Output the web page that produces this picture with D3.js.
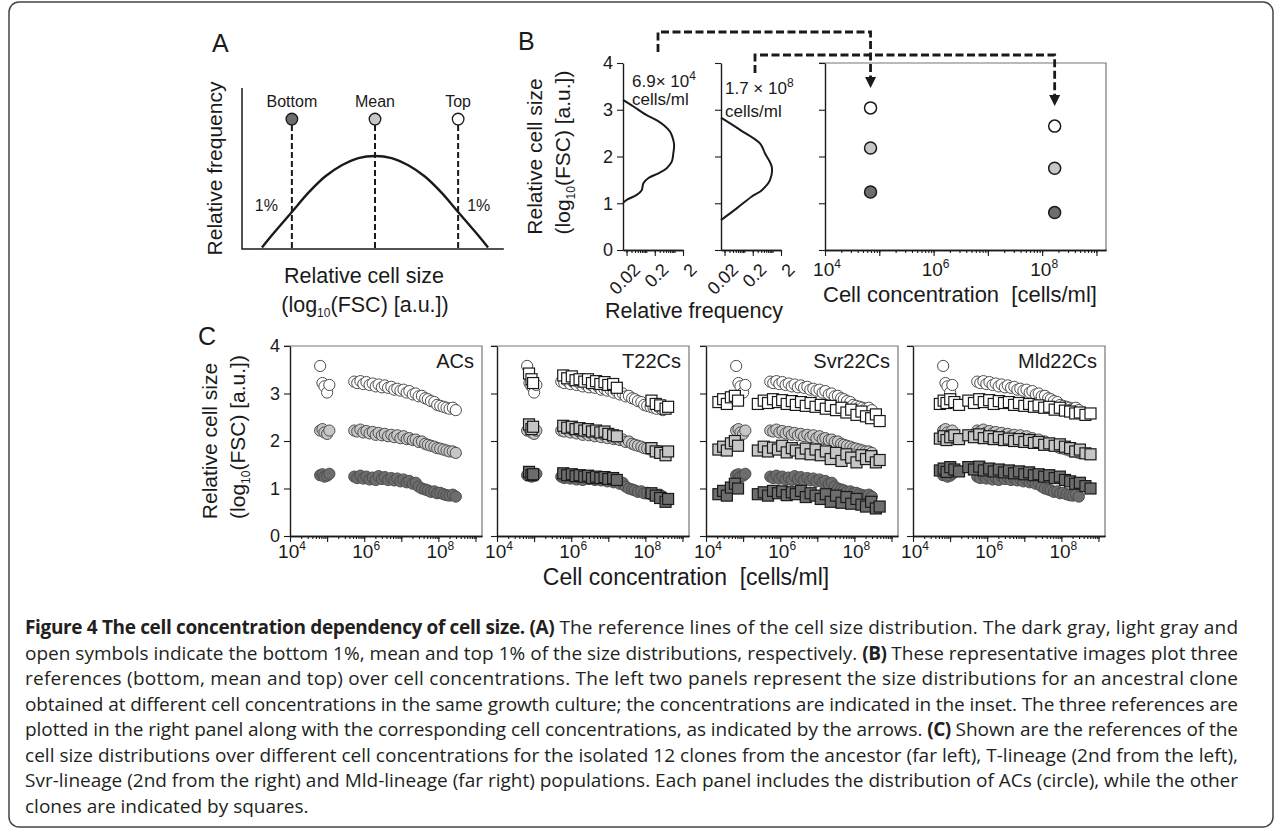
<!DOCTYPE html>
<html>
<head>
<meta charset="utf-8">
<script src="https://cdnjs.cloudflare.com/ajax/libs/d3/7.8.5/d3.min.js"></script>
<style>
  body { margin: 0; background: #fff; }
  svg text { font-family: "Liberation Sans", Arial, Helvetica, sans-serif; fill: #1a1a1a; }
  svg text.cap { font-family: "Open Sans", "Noto Sans", sans-serif; fill: #231f20; }
</style>
</head>
<body>
<svg id="fig" width="1282" height="830"></svg>
<script>
// ---- data ----
// panel A: schematic size distribution (relative size, relative frequency)
var bellSize = [-1.36, -1.2, -1.0, -0.8, -0.6, -0.4, -0.2, 0, 0.2, 0.4, 0.6, 0.8, 1.0, 1.2, 1.36];
var bellFreq = [0.01, 0.11, 0.23, 0.35, 0.45, 0.52, 0.565, 0.578, 0.565, 0.52, 0.45, 0.35, 0.23, 0.11, 0.01];
var refNames = ["Bottom", "Mean", "Top"];
var refPos = [-1, 0, 1];

// panel B: two measured size distributions (log10 FSC, relative frequency)
var hist1Size = [3.21, 3.07, 2.89, 2.78, 2.68, 2.53, 2.40, 2.25, 2.07, 1.89, 1.75, 1.64, 1.54, 1.43, 1.28, 1.18, 1.07, 1.01];
var hist1Freq = [0.015, 0.035, 0.10, 0.23, 0.40, 0.70, 0.86, 0.97, 0.91, 0.80, 0.53, 0.27, 0.12, 0.079, 0.069, 0.046, 0.020, 0.015];
var hist2Size = [2.83, 2.57, 2.28, 2.07, 1.78, 1.50, 1.28, 1.14, 0.89, 0.64];
var hist2Freq = [0.015, 0.071, 0.36, 0.54, 0.94, 0.82, 0.42, 0.18, 0.054, 0.015];
var histConc = [6.9e4, 1.7e8];
var histConcText = [["6.9\u00d7 10", "4"], ["1.7 \u00d7 10", "8"]];
// references of the two distributions: bottom, mean, top
var bRefBottom = [1.24, 0.80];
var bRefMean = [2.18, 1.75];
var bRefTop = [3.04, 2.65];

// panel C: [cells/ml, bottom 1%, mean, top 1%]
var acRefs = [
  [6.5e4, 1.28, 2.22, 3.58], [7.5e4, 1.30, 2.25, 3.22], [8.5e4, 1.25, 2.18, 3.15], [1.0e5, 1.27, 2.15, 3.02], [1.15e5, 1.31, 2.22, 3.18],
  [5.4e5, 1.25, 2.22, 3.25], [6.5e5, 1.22, 2.20, 3.22], [7.9e5, 1.27, 2.24, 3.26], [9.5e5, 1.21, 2.18, 3.20], [1.15e6, 1.25, 2.21, 3.24],
  [1.4e6, 1.19, 2.16, 3.18], [1.7e6, 1.23, 2.19, 3.21], [2.05e6, 1.18, 2.13, 3.15], [2.45e6, 1.26, 2.17, 3.19], [3.0e6, 1.20, 2.12, 3.13],
  [3.6e6, 1.24, 2.15, 3.17], [4.4e6, 1.18, 2.10, 3.12], [5.4e6, 1.22, 2.13, 3.14], [6.5e6, 1.17, 2.08, 3.08], [7.8e6, 1.21, 2.12, 3.10],
  [9.5e6, 1.15, 2.06, 3.06], [1.15e7, 1.19, 2.10, 3.08], [1.4e7, 1.13, 2.04, 3.02], [1.65e7, 1.16, 2.06, 3.05], [2.05e7, 1.10, 2.02, 2.98],
  [2.45e7, 1.12, 2.03, 3.00], [2.95e7, 1.04, 1.98, 2.94], [3.6e7, 1.00, 1.99, 2.95], [4.4e7, 0.98, 1.94, 2.90], [5.2e7, 0.96, 1.92, 2.88],
  [6.3e7, 0.93, 1.90, 2.84], [7.8e7, 0.94, 1.88, 2.82], [9.3e7, 0.90, 1.85, 2.76], [1.12e8, 0.91, 1.84, 2.74], [1.38e8, 0.88, 1.82, 2.72],
  [1.66e8, 0.86, 1.80, 2.70], [2.0e8, 0.85, 1.78, 2.68], [2.45e8, 0.87, 1.78, 2.70], [2.95e8, 0.83, 1.75, 2.65]
];
var t22Refs = [
  [7.3e4, 1.35, 2.35, 3.42], [8.5e4, 1.28, 2.25, 3.30], [9.4e4, 1.30, 2.30, 3.22],
  [6.1e5, 1.32, 2.32, 3.38], [7.8e5, 1.28, 2.28, 3.32], [1.04e6, 1.30, 2.30, 3.36], [1.31e6, 1.26, 2.25, 3.28], [1.68e6, 1.28, 2.27, 3.30],
  [2.25e6, 1.25, 2.22, 3.25], [2.84e6, 1.27, 2.25, 3.30], [3.64e6, 1.22, 2.20, 3.22], [4.67e6, 1.25, 2.22, 3.26], [6.1e6, 1.22, 2.18, 3.20],
  [7.9e6, 1.24, 2.20, 3.24], [1.0e7, 1.20, 2.15, 3.18], [1.35e7, 1.22, 2.12, 3.20], [1.7e7, 1.18, 2.10, 3.12],
  [1.46e8, 0.90, 1.85, 2.85], [1.9e8, 0.85, 1.78, 2.78], [2.5e8, 0.80, 1.75, 2.75], [3.5e8, 0.72, 1.70, 2.68], [4.1e8, 0.78, 1.78, 2.72]
];
var svrRefs = [
  [2.16e4, 0.88, 1.82, 2.82], [2.9e4, 0.95, 1.88, 2.88], [3.65e4, 0.85, 1.80, 2.78], [4.7e4, 1.02, 1.95, 2.92], [6.0e4, 1.10, 2.00, 2.95], [7.3e4, 1.00, 1.90, 2.85],
  [2.5e5, 0.88, 1.80, 2.78], [3.6e5, 0.92, 1.88, 2.85], [4.7e5, 0.85, 1.78, 2.80], [6.4e5, 0.95, 1.86, 2.88], [8.7e5, 0.90, 1.82, 2.82],
  [1.13e6, 0.94, 1.90, 2.86], [1.5e6, 0.86, 1.76, 2.78], [2.06e6, 0.92, 1.85, 2.84], [2.64e6, 0.88, 1.80, 2.76], [3.64e6, 0.95, 1.74, 2.82],
  [4.9e6, 0.82, 1.84, 2.74], [6.6e6, 0.90, 1.72, 2.80], [9.0e6, 0.85, 1.82, 2.72], [1.24e7, 0.78, 1.70, 2.76], [1.7e7, 0.88, 1.78, 2.68],
  [2.3e7, 0.72, 1.62, 2.74], [3.2e7, 0.85, 1.75, 2.65], [4.5e7, 0.70, 1.58, 2.70], [6.1e7, 0.82, 1.72, 2.60], [8.2e7, 0.68, 1.65, 2.66],
  [1.14e8, 0.78, 1.55, 2.55], [1.55e8, 0.66, 1.70, 2.62], [2.06e8, 0.62, 1.62, 2.52], [2.83e8, 0.72, 1.68, 2.48], [3.8e8, 0.58, 1.55, 2.56],
  [4.8e8, 0.62, 1.60, 2.42]
];
var mldRefs = [
  [5.3e4, 1.38, 2.05, 2.78], [6.7e4, 1.42, 2.10, 2.85], [8.0e4, 1.35, 2.02, 2.80], [1.01e5, 1.45, 2.08, 2.88], [1.3e5, 1.40, 2.12, 2.82], [1.74e5, 1.36, 2.04, 2.76],
  [3.1e5, 1.45, 2.12, 2.85], [4.4e5, 1.40, 2.08, 2.80], [6.1e5, 1.46, 2.14, 2.88], [8.1e5, 1.38, 2.06, 2.82], [1.13e6, 1.42, 2.10, 2.86],
  [1.5e6, 1.36, 2.04, 2.78], [2.06e6, 1.40, 2.08, 2.84], [2.84e6, 1.34, 2.02, 2.80], [3.85e6, 1.38, 2.05, 2.82], [5.3e6, 1.32, 2.00, 2.76],
  [7.2e6, 1.36, 2.04, 2.80], [1.0e7, 1.30, 1.98, 2.74], [1.35e7, 1.34, 2.02, 2.78], [1.82e7, 1.28, 1.96, 2.72], [2.43e7, 1.30, 1.98, 2.75],
  [3.43e7, 1.25, 1.92, 2.70], [4.7e7, 1.28, 1.95, 2.72], [6.6e7, 1.22, 1.90, 2.66], [9.1e7, 1.25, 1.93, 2.70], [1.25e8, 1.18, 1.88, 2.64],
  [1.72e8, 1.15, 1.85, 2.62], [2.36e8, 1.10, 1.78, 2.58], [3.15e8, 1.12, 1.82, 2.60], [4.45e8, 1.05, 1.74, 2.55], [6.1e8, 1.00, 1.72, 2.58]
];
var panelNames = ["ACs", "T22Cs", "Svr22Cs", "Mld22Cs"];
var panelClones = [null, t22Refs, svrRefs, mldRefs];
var sizeTicks = [0, 1, 2, 3, 4];
var concDomain = [1e4, 1.5e9];
var concMajors = [1e4, 1e5, 1e6, 1e7, 1e8, 1e9];
var concLabels = [1e4, 1e6, 1e8];
var freqLabels = [0.02, 0.2, 2];

var captionLines = [
  [["Figure 4 The cell concentration dependency of cell size. (A)", 1], [" The reference lines of the cell size distribution. The dark gray, light gray and", 0]],
  [["open symbols indicate the bottom 1%, mean and top 1% of the size distributions, respectively. ", 0], ["(B)", 1], [" These representative images plot three", 0]],
  [["references (bottom, mean and top) over cell concentrations. The left two panels represent the size distributions for an ancestral clone", 0]],
  [["obtained at different cell concentrations in the same growth culture; the concentrations are indicated in the inset. The three references are", 0]],
  [["plotted in the right panel along with the corresponding cell concentrations, as indicated by the arrows. ", 0], ["(C)", 1], [" Shown are the references of the", 0]],
  [["cell size distributions over different cell concentrations for the isolated 12 clones from the ancestor (far left), T-lineage (2nd from the left),", 0]],
  [["Svr-lineage (2nd from the right) and Mld-lineage (far right) populations. Each panel includes the distribution of ACs (circle), while the other", 0]],
  [["clones are indicated by squares.", 0]]
];

// ---- styles ----
var levelFill = ["#6d6d6d", "#c6c6c6", "#ffffff"];   // bottom, mean, top
var ink = "#1a1a1a";

var svg = d3.select("#fig");

svg.append("rect")
  .attr("x", 9).attr("y", 2).attr("width", 1264).attr("height", 825)
  .attr("rx", 10).attr("fill", "none").attr("stroke", "#444").attr("stroke-width", 1.5);

function logTicks(lo, hi) {
  var out = [];
  for (var e = Math.floor(Math.log10(lo)); e <= Math.ceil(Math.log10(hi)); e++) {
    for (var k = 1; k < 10; k++) {
      var v = k * Math.pow(10, e);
      if (v >= lo * 0.999 && v <= hi * 1.001) out.push(v);
    }
  }
  return out;
}

function styleAxis(g) {
  g.select(".domain").attr("stroke", ink).attr("stroke-width", 1.4);
  g.selectAll(".tick line").attr("stroke", ink).attr("stroke-width", 1.1);
  g.selectAll(".tick text").remove();
}

function sizeAxis(x0, y, withLabels) {
  var g = svg.append("g").attr("transform", `translate(${x0},0)`)
    .call(d3.axisLeft(y).tickValues(sizeTicks).tickSize(6).tickSizeOuter(0));
  styleAxis(g);
  if (withLabels) {
    sizeTicks.forEach(function(v) {
      svg.append("text").attr("x", x0 - 10).attr("y", y(v)).attr("dy", "0.36em")
        .attr("text-anchor", "end").attr("font-size", 18).text(v);
    });
  }
}

function concAxis(x, y0, labelY) {
  var d = x.domain();
  var g1 = svg.append("g").attr("transform", `translate(0,${y0})`)
    .call(d3.axisBottom(x).tickValues(logTicks(d[0], d[1])).tickSize(3).tickSizeOuter(0));
  styleAxis(g1);
  var g2 = svg.append("g").attr("transform", `translate(0,${y0})`)
    .call(d3.axisBottom(x).tickValues(concMajors.filter(v => v <= d[1])).tickSize(6).tickSizeOuter(0));
  styleAxis(g2);
  concLabels.forEach(function(v) {
    var t = svg.append("text").attr("x", x(v) + 2).attr("y", labelY)
      .attr("text-anchor", "middle").attr("font-size", 19);
    t.append("tspan").text("10");
    t.append("tspan").attr("dy", -8).attr("font-size", 12).text(Math.round(Math.log10(v)));
  });
}

function boxEdges(x0, x1, y0, y1) {
  svg.append("path")
    .attr("d", `M${x0 - 6},${y0}H${x1}V${y1}`)
    .attr("fill", "none").attr("stroke", "#777").attr("stroke-width", 1.2);
}

function sizeTitle(xBase, cy) {
  svg.append("text").attr("transform", `translate(${xBase},${cy}) rotate(-90)`)
    .attr("text-anchor", "middle").attr("font-size", 21).text("Relative cell size");
  var t2 = svg.append("text").attr("transform", `translate(${xBase + 28},${cy - 4}) rotate(-90)`)
    .attr("text-anchor", "middle").attr("font-size", 21);
  t2.append("tspan").text("(log");
  t2.append("tspan").attr("font-size", 12).attr("dy", 5).text("10");
  t2.append("tspan").attr("dy", -5).text("(FSC) [a.u.])");
}

function letter(s, x, y) {
  svg.append("text").attr("x", x).attr("y", y).attr("font-size", 25).text(s);
}

// ================= Panel A =================
letter("A", 212, 52);
var aX = d3.scaleLinear().domain([-1.6, 1.6]).range([242, 508]);
var aY = d3.scaleLinear().domain([0, 1]).range([249, 88]);

svg.append("path")
  .attr("d", `M242,${aY(1)}V${aY(0)}H${aX(1.55)}`)
  .attr("fill", "none").attr("stroke", ink).attr("stroke-width", 1.5);

var bell = bellSize.map((s, i) => [s, bellFreq[i]]);
svg.append("path").datum(bell)
  .attr("d", d3.line().x(d => aX(d[0])).y(d => aY(d[1])).curve(d3.curveCatmullRom))
  .attr("fill", "none").attr("stroke", ink).attr("stroke-width", 2.4);

refPos.forEach(function(p, i) {
  svg.append("line")
    .attr("x1", aX(p)).attr("x2", aX(p)).attr("y1", aY(0.807) + 6).attr("y2", aY(0))
    .attr("stroke", ink).attr("stroke-width", 2).attr("stroke-dasharray", "6,3");
  svg.append("circle").attr("cx", aX(p)).attr("cy", aY(0.807)).attr("r", 5.8)
    .attr("fill", levelFill[i]).attr("stroke", ink).attr("stroke-width", 1.3);
  svg.append("text").attr("x", aX(p)).attr("y", aY(0.88)).attr("text-anchor", "middle")
    .attr("font-size", 16).text(refNames[i]);
});
svg.append("text").attr("x", aX(-1) - 14).attr("y", 211).attr("text-anchor", "end").attr("font-size", 16).text("1%");
svg.append("text").attr("x", aX(1) + 9).attr("y", 211).attr("text-anchor", "start").attr("font-size", 16).text("1%");

svg.append("text").attr("transform", `translate(222,${(aY(0) + aY(1)) / 2}) rotate(-90)`)
  .attr("text-anchor", "middle").attr("font-size", 21).text("Relative frequency");
svg.append("text").attr("x", 364).attr("y", 283).attr("text-anchor", "middle")
  .attr("font-size", 21.5).text("Relative cell size");
var ax2 = svg.append("text").attr("x", 365).attr("y", 312).attr("text-anchor", "middle").attr("font-size", 21.5);
ax2.append("tspan").text("(log");
ax2.append("tspan").attr("font-size", 12).attr("dy", 5).text("10");
ax2.append("tspan").attr("dy", -5).text("(FSC) [a.u.])");

// ================= Panel B =================
letter("B", 518, 50);
var bY = d3.scaleLinear().domain([0, 4]).range([250, 63]);
var hLefts = [623, 721];
var hists = [
  hist1Size.map((s, i) => [s, hist1Freq[i]]),
  hist2Size.map((s, i) => [s, hist2Freq[i]])
];
hLefts.forEach(function(x0, h) {
  var hx = d3.scaleLog().domain([0.015, 2]).range([x0, x0 + 60]).clamp(true);
  sizeAxis(x0, bY, h === 0);
  var g1 = svg.append("g").attr("transform", `translate(0,${bY(0)})`)
    .call(d3.axisBottom(hx).tickValues(logTicks(0.015, 2)).tickSize(3).tickSizeOuter(0));
  styleAxis(g1);
  var g2 = svg.append("g").attr("transform", `translate(0,${bY(0)})`)
    .call(d3.axisBottom(hx).tickValues(freqLabels).tickSize(6).tickSizeOuter(0));
  styleAxis(g2);
  freqLabels.forEach(function(v) {
    svg.append("text")
      .attr("transform", `translate(${hx(v) + 6},${bY(0) + 12}) rotate(-45)`)
      .attr("text-anchor", "end").attr("dy", "0.7em").attr("font-size", 18).text(v);
  });
  svg.append("path").datum(hists[h])
    .attr("d", d3.line().x(d => hx(d[1])).y(d => bY(d[0])).curve(d3.curveCatmullRom))
    .attr("fill", "none").attr("stroke", ink).attr("stroke-width", 2);
});
// inset concentration labels
var insetPos = [[632, 87, 105], [725, 94, 117]];
histConcText.forEach(function(t, i) {
  var tx = svg.append("text").attr("x", insetPos[i][0]).attr("y", insetPos[i][1]).attr("font-size", 17);
  tx.append("tspan").text(t[0]);
  tx.append("tspan").attr("dy", -7).attr("font-size", 12).text(t[1]);
  svg.append("text").attr("x", insetPos[i][0]).attr("y", insetPos[i][2]).attr("font-size", 17).text("cells/ml");
});
svg.append("text").attr("x", 694).attr("y", 318).attr("text-anchor", "middle")
  .attr("font-size", 21.5).text("Relative frequency");
sizeTitle(542, (bY(0) + bY(4)) / 2);

// right panel of B
var bX = d3.scaleLog().domain(concDomain).range([825, 1106]);
boxEdges(825, 1106, bY(4), bY(0));
sizeAxis(825, bY, false);
concAxis(bX, bY(0), 276);
svg.append("text").attr("x", 823).attr("y", 302).attr("font-size", 22)
  .attr("xml:space", "preserve").text("Cell concentration  [cells/ml]");
var bLevels = [bRefBottom, bRefMean, bRefTop];
bLevels.forEach(function(arr, li) {
  histConc.forEach(function(c, i) {
    svg.append("circle").attr("cx", bX(c)).attr("cy", bY(arr[i])).attr("r", 6)
      .attr("fill", levelFill[li]).attr("stroke", ink).attr("stroke-width", 1.5);
  });
});
// dashed arrows from the insets to the references
var arrowY = [32, 55];
var arrowFrom = [[658, 52], [755, 73]];
histConc.forEach(function(c, i) {
  var tipY = bY(bRefTop[i]) - 20;
  var xe = bX(c);
  svg.append("path")
    .attr("d", `M${arrowFrom[i][0]},${arrowFrom[i][1]}V${arrowY[i]}H${xe}V${tipY - 9}`)
    .attr("fill", "none").attr("stroke", ink).attr("stroke-width", 2.8).attr("stroke-dasharray", "8,3.5");
  svg.append("path")
    .attr("d", `M${xe - 5.5},${tipY - 11}L${xe + 5.5},${tipY - 11}L${xe},${tipY}Z`)
    .attr("fill", ink);
});

// ================= Panel C =================
letter("C", 198, 345);
var cY = d3.scaleLinear().domain([0, 4]).range([536, 346]);
var cLefts = [290, 497, 706, 913];
var cW = 192;
sizeTitle(217, (cY(0) + cY(4)) / 2);

function drawRefs(g, rows, x, shape) {
  [3, 2, 1].forEach(function(col) {
    var fill = levelFill[col - 1];
    if (shape === "circle") {
      g.selectAll(null).data(rows).enter().append("circle")
        .attr("cx", d => x(d[0])).attr("cy", d => cY(d[col])).attr("r", 5.6)
        .attr("fill", fill).attr("stroke", "#4d4d4d").attr("stroke-width", 1);
    } else {
      g.selectAll(null).data(rows).enter().append("rect")
        .attr("x", d => x(d[0]) - 5.5).attr("y", d => cY(d[col]) - 5.5)
        .attr("width", 11).attr("height", 11)
        .attr("fill", fill).attr("stroke", "#1a1a1a").attr("stroke-width", 1.2);
    }
  });
}

cLefts.forEach(function(x0, p) {
  var x = d3.scaleLog().domain(concDomain).range([x0, x0 + cW]);
  boxEdges(x0, x0 + cW, cY(4), cY(0));
  var g = svg.append("g");
  drawRefs(g, acRefs, x, "circle");
  if (panelClones[p]) drawRefs(g, panelClones[p], x, "square");
  sizeAxis(x0, cY, p === 0);
  concAxis(x, cY(0), 558);
  svg.append("text").attr("x", x0 + cW - 8).attr("y", 368).attr("text-anchor", "end")
    .attr("font-size", 20).text(panelNames[p]);
});
svg.append("text").attr("x", 686).attr("y", 585).attr("text-anchor", "middle")
  .attr("font-size", 23).attr("xml:space", "preserve").text("Cell concentration  [cells/ml]");

// ================= Caption =================
captionLines.forEach(function(line, i) {
  var t = svg.append("text").attr("class", "cap").attr("x", 25).attr("y", 634 + i * 25.5)
    .attr("font-size", 19).attr("xml:space", "preserve");
  line.forEach(function(seg) {
    t.append("tspan").attr("font-weight", seg[1] ? "bold" : "normal")
      .attr("letter-spacing", seg[1] ? -0.5 : 0).text(seg[0]);
  });
  // the printed caption is justified: full lines run to the same right edge
  if (i < captionLines.length - 1) {
    t.attr("textLength", 1213).attr("lengthAdjust", "spacing");
  }
});
</script>
</body>
</html>
